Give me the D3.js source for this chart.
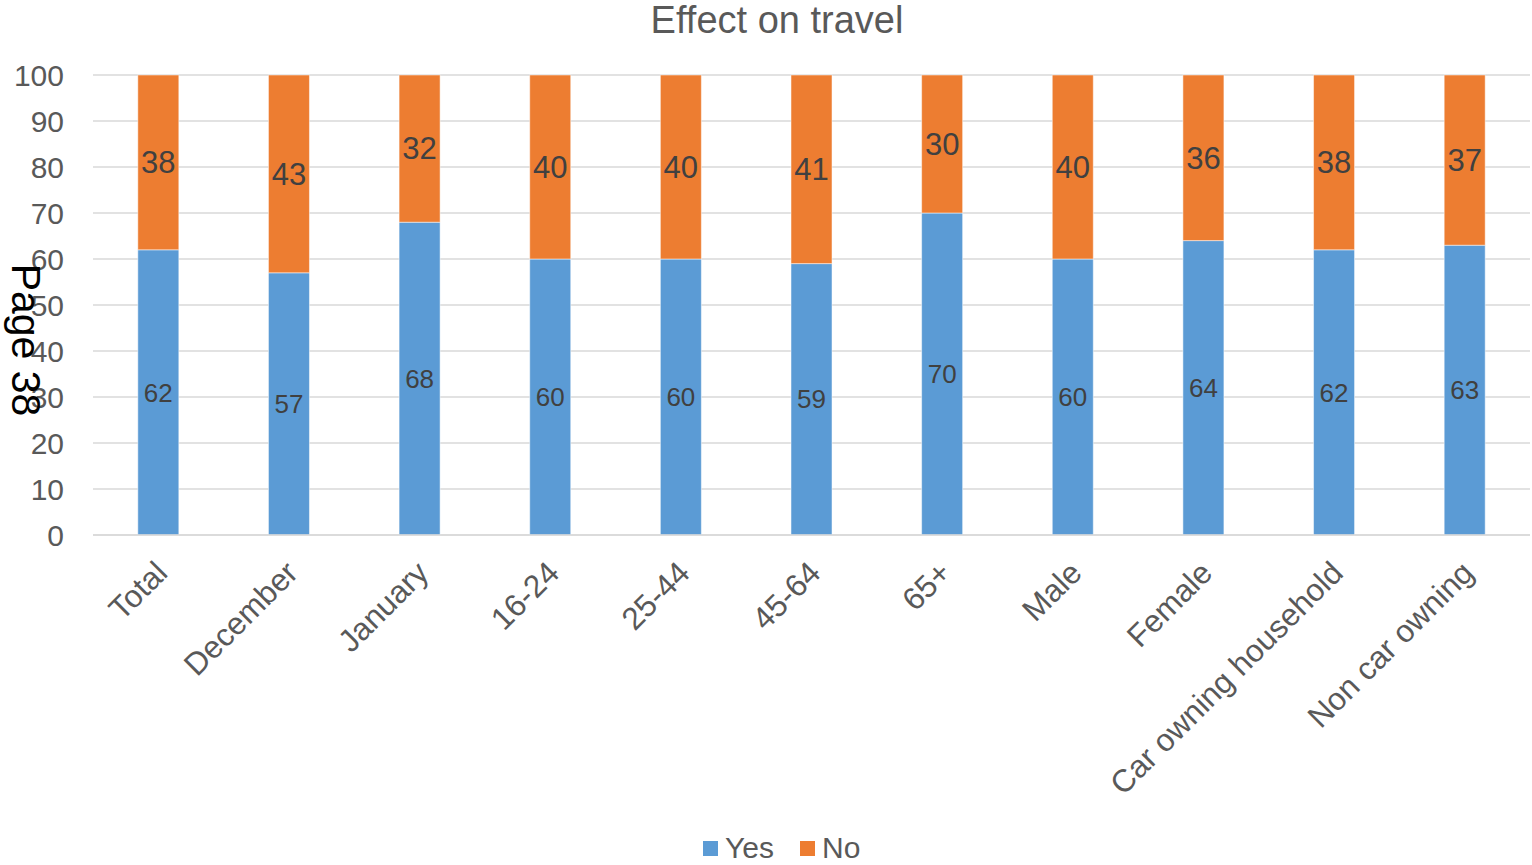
<!DOCTYPE html>
<html>
<head>
<meta charset="utf-8">
<script src="https://cdn.jsdelivr.net/npm/d3@7"></script>
<style>
  body { margin: 0; background: #fff; }
  svg text { font-family: "Liberation Sans", Arial, sans-serif; }
</style>
</head>
<body>
<div id="chart"></div>
<script>
const categories = ['Total', 'December', 'January', '16-24', '25-44', '45-64', '65+',
  'Male', 'Female', 'Car owning household', 'Non car owning'];
const yesValues = [62, 57, 68, 60, 60, 59, 70, 60, 64, 62, 63];
const noValues = [38, 43, 32, 40, 40, 41, 30, 40, 36, 38, 37];
const seriesNames = ['Yes', 'No'];
const yTicks = [0, 10, 20, 30, 40, 50, 60, 70, 80, 90, 100];

const width = 1532, height = 865;
const margin = { top: 75, right: 2, bottom: 330, left: 93 };
const colors = { Yes: '#5B9BD5', No: '#ED7D31' };

const svg = d3.select('#chart').append('svg')
  .attr('width', width)
  .attr('height', height);

const x = d3.scaleBand()
  .domain(categories)
  .range([margin.left, width - margin.right])
  .paddingInner(0.686)
  .paddingOuter(0.343);

const y = d3.scaleLinear()
  .domain([0, 100])
  .range([height - margin.bottom, margin.top]);

// gridlines
svg.append('g')
  .selectAll('line')
  .data(yTicks)
  .join('line')
  .attr('x1', margin.left)
  .attr('x2', width - margin.right)
  .attr('y1', d => y(d))
  .attr('y2', d => y(d))
  .attr('stroke', '#d9d9d9')
  .attr('stroke-width', 1.3);

// y axis labels
const yAxis = d3.axisLeft(y).tickValues(yTicks).tickSize(0).tickPadding(29);
svg.append('g')
  .attr('transform', `translate(${margin.left},0)`)
  .call(yAxis)
  .call(g => g.select('.domain').remove())
  .selectAll('text')
  .attr('fill', '#595959')
  .style('font-size', '30px')
  .attr('dy', '0.35em');

const data = categories.map((c, i) => ({ cat: c, Yes: yesValues[i], No: noValues[i] }));
const stacked = d3.stack().keys(seriesNames)(data);

const layers = svg.append('g')
  .selectAll('g')
  .data(stacked)
  .join('g')
  .attr('fill', d => colors[d.key]);

layers.selectAll('rect')
  .data(d => d)
  .join('rect')
  .attr('x', d => x(d.data.cat))
  .attr('width', x.bandwidth())
  .attr('y', d => y(d[1]))
  .attr('height', d => y(d[0]) - y(d[1]))
  .attr('stroke', '#fff')
  .attr('stroke-opacity', 0.5)
  .attr('stroke-width', 1);

// data labels
layers.each(function (layer) {
  d3.select(this).selectAll('text')
    .data(layer)
    .join('text')
    .attr('x', d => x(d.data.cat) + x.bandwidth() / 2)
    .attr('y', d => y((d[0] + d[1]) / 2))
    .attr('dy', '0.35em')
    .attr('text-anchor', 'middle')
    .attr('fill', '#404040')
    .style('font-size', layer.key === 'Yes' ? '26px' : '31px')
    .text(d => d[1] - d[0]);
});

// x axis
svg.append('line')
  .attr('x1', margin.left)
  .attr('x2', width - margin.right)
  .attr('y1', y(0))
  .attr('y2', y(0))
  .attr('stroke', '#d9d9d9')
  .attr('stroke-width', 1.3);

svg.append('g')
  .selectAll('text')
  .data(categories)
  .join('text')
  .attr('transform', d => `translate(${x(d) + x.bandwidth() / 2 + 3},${y(0) + 32}) rotate(-45)`)
  .attr('text-anchor', 'end')
  .attr('dy', '0.35em')
  .attr('fill', '#595959')
  .style('font-size', '31.5px')
  .text(d => d);

// title
svg.append('text')
  .attr('x', 777)
  .attr('y', 33)
  .attr('text-anchor', 'middle')
  .attr('fill', '#595959')
  .style('font-size', '38px')
  .text('Effect on travel');

// page marker
svg.append('text')
  .attr('transform', 'translate(12,340) rotate(90)')
  .attr('text-anchor', 'middle')
  .attr('fill', '#000')
  .style('font-size', '41px')
  .text('Page 38');

// legend
const legend = svg.append('g')
  .selectAll('g')
  .data(seriesNames)
  .join('g')
  .attr('transform', (d, i) => `translate(${703 + i * 97},841)`);
legend.append('rect')
  .attr('width', 15)
  .attr('height', 15)
  .attr('fill', d => colors[d]);
legend.append('text')
  .attr('x', 22)
  .attr('y', 6)
  .attr('dy', '0.35em')
  .attr('fill', '#595959')
  .style('font-size', '30px')
  .text(d => d);
</script>
</body>
</html>
